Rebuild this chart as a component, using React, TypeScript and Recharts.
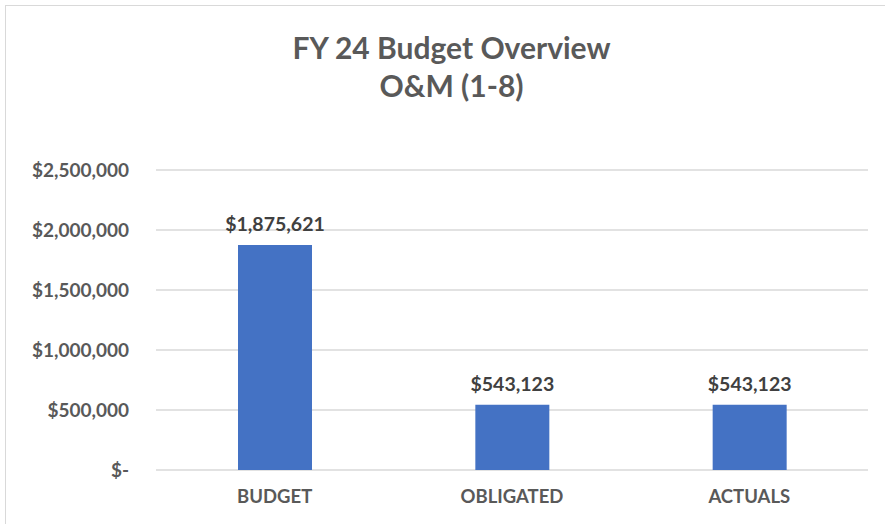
import { Bar, BarChart, CartesianGrid, LabelList, XAxis, YAxis } from 'recharts';

const categories = ['BUDGET', 'OBLIGATED', 'ACTUALS'];
const amounts = [1875621, 543123, 543123];
const yTicks = [0, 500000, 1000000, 1500000, 2000000, 2500000];

const data = categories.map((name, i) => ({ name, amount: amounts[i] }));

const money = (v: any) =>
  v === 0 ? '$-' : `$${Number(v).toLocaleString('en-US')}`;

const font = 'Lato, "Open Sans", sans-serif';

export default function App() {
  return (
    <div
      style={{
        position: 'fixed',
        left: 0,
        top: 0,
        width: 885,
        height: 524,
        background: '#fff',
        fontFamily: font,
        overflow: 'hidden',
      }}
    >
      <div
        style={{
          position: 'absolute',
          left: 5,
          top: 5,
          width: 1000,
          height: 1000,
          border: '1.5px solid #d9d9d9',
        }}
      />
      <div
        style={{
          position: 'absolute',
          left: 0,
          width: 903,
          top: 28,
          textAlign: 'center',
          color: '#595959',
          fontSize: 30,
          fontWeight: 700,
          lineHeight: '38px',
        }}
      >
        FY 24 Budget Overview
        <br />
        O&amp;M (1-8)
      </div>
      <div style={{ position: 'absolute', left: 0, top: 0 }}>
        <BarChart
          width={885}
          height={524}
          data={data}
          margin={{ top: 170, right: 17, left: 0, bottom: 24 }}
        >
          <CartesianGrid vertical={false} stroke='#d9d9d9' strokeWidth={1.5} />
          <XAxis
            dataKey='name'
            axisLine={false}
            tickLine={false}
            height={30}
            tickMargin={14}
            tick={{ fill: '#595959', fontSize: 18.5, fontWeight: 700, fontFamily: font }}
          />
          <YAxis
            type='number'
            domain={[0, 2500000]}
            ticks={yTicks}
            width={156}
            axisLine={false}
            tickLine={false}
            tickMargin={21}
            tickFormatter={money}
            tick={{ fill: '#595959', fontSize: 19, fontWeight: 700, fontFamily: font }}
          />
          <Bar dataKey='amount' fill='#4472c4' barSize={74} isAnimationActive={false}>
            <LabelList
              dataKey='amount'
              position='top'
              offset={14}
              formatter={money}
              fill='#404040'
              fontSize={19.5}
              fontWeight={700}
              fontFamily={font}
            />
          </Bar>
        </BarChart>
      </div>
    </div>
  );
}
